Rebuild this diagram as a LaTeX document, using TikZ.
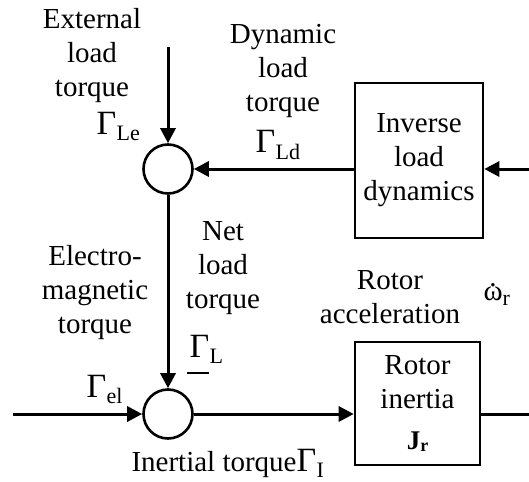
\documentclass[tikz,border=0pt]{standalone}
\usepackage{fontspec}
\setmainfont{Liberation Serif}
\usetikzlibrary{arrows.meta}
\newcommand\Gsub[1]{{\fontsize{34}{34}\selectfont Γ}\kern0.5pt\raisebox{-6pt}{\fontsize{22}{22}\selectfont #1}}
\newcommand\dotom{\setbox0\hbox{ω}\rlap{\hbox to\wd0{\hss\raisebox{13.5pt}{.}\hss}}ω}
\begin{document}
\begin{tikzpicture}[x=1pt,y=-1pt,line width=3pt,
  every node/.style={inner sep=0pt,font=\fontsize{29}{34}\selectfont},
  sumnode/.style={circle,draw,line width=2.6pt,minimum size=49pt},
  blockbox/.style={draw,line width=2.6pt,align=center},
  lbl/.style={align=center,anchor=north},
  sublbl/.style={anchor=base west},
  arr/.style={-{Triangle[length=15pt,width=15pt]}}]
\useasboundingbox (0,0) rectangle (529,481);
% summing junctions
\node[sumnode] (c1) at (168,169) {};
\node[sumnode] (c2) at (168,414) {};
% blocks
\node[blockbox,minimum width=128pt,minimum height=155pt] (inv) at (419,160.5) {Inverse\\load\\dynamics};
\node[blockbox,minimum width=125pt,minimum height=123pt] (rot) at (417.5,403.5)
  {Rotor\\inertia\\[6pt]\textbf{\fontsize{27}{27}\selectfont J\raisebox{-2pt}{\fontsize{18}{18}\selectfont r}}};
% free ends
\coordinate (topIn) at (168,47);
\coordinate (inR) at (529,169);
\coordinate (inL) at (13,414);
\coordinate (outR) at (529,414);
% connectors
\draw[arr] (topIn) -- (c1.north);
\draw[arr] (inR) -- (inv.east |- inR);
\draw[arr] (inv.west |- c1.east) -- (c1.east);
\draw[arr] (c1.south) -- (c2.north);
\draw[arr] (inL) -- (c2.west);
\draw[arr] (c2.east) -- (rot.west |- c2.east);
\draw (rot.east |- outR) -- (outR);
% labels
\node[lbl] (extlbl) at (92,7) {External\\load\\torque};
\node[sublbl] (gle) at (95,135) {\Gsub{Le}};
\node[lbl] (dynlbl) at (283,23) {Dynamic\\load\\torque};
\node[sublbl] (gld) at (254,153) {\Gsub{Ld}};
\node[lbl] (netlbl) at (223,220) {Net\\load\\torque};
\node[sublbl] (gl) at (188,357) {\Gsub{L}};
\node (minus) at (198,373) {\rule{22pt}{2.5pt}};
\node[lbl] (emlbl) at (95,244) {Electro-\\magnetic\\torque};
\node[sublbl] (gel) at (85,397) {\Gsub{el}};
\node[lbl] (acclbl) at (390,269) {Rotor\\acceleration};
\node[sublbl] (om) at (482,300) {\dotom\raisebox{-5pt}{\fontsize{22}{22}\selectfont r}};
\node[sublbl] (inlbl) at (130,471) {Inertial torque\Gsub{I}};
\end{tikzpicture}
\end{document}
